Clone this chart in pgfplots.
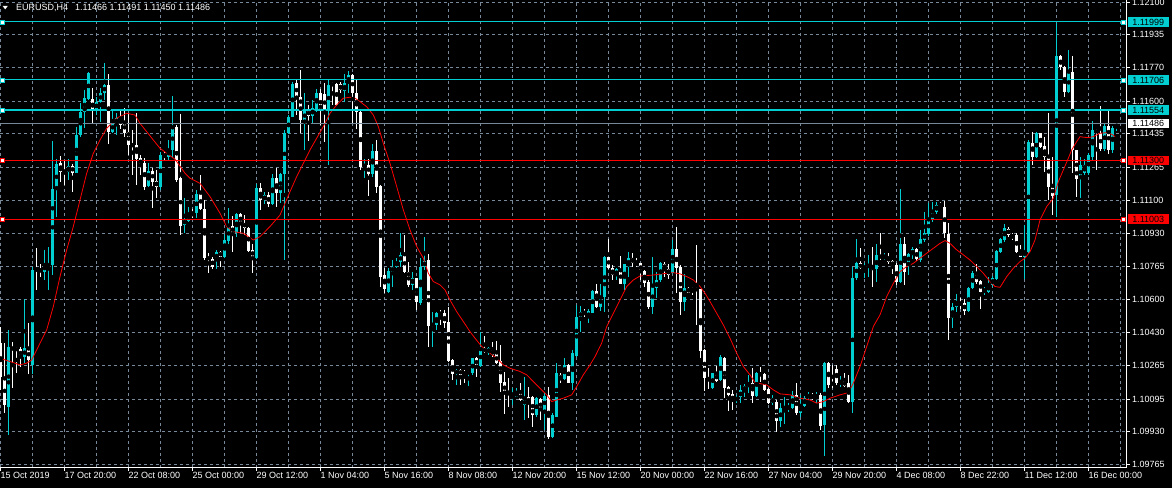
\documentclass[border=0pt]{standalone}
\usepackage{fontspec}
\setmainfont{Liberation Sans}
\usepackage{pgfplots}
\usepackage{pgfplotstable}
\pgfplotsset{compat=1.18}
\usetikzlibrary{backgrounds}
\definecolor{mtcyan}{RGB}{0,206,209}
\definecolor{mtgrid}{RGB}{119,136,153}
\definecolor{mtred}{RGB}{255,0,0}

% EURUSD H4 bars: index, open, high, low, close
\pgfplotstableread{
k o h l c
0 1.10377 1.10461 1.10141 1.10208
1 1.10208 1.10377 1.10023 1.10065
2 1.10057 1.10447 1.09914 1.10360
3 1.10360 1.10385 1.10149 1.10343
4 1.10351 1.10360 1.10225 1.10343
5 1.10346 1.10360 1.10259 1.10309
6 1.10309 1.10599 1.10276 1.10351
7 1.10351 1.10478 1.10225 1.10292
8 1.10267 1.10764 1.10225 1.10747
9 1.10755 1.10856 1.10646 1.10743
10 1.10753 1.10780 1.10713 1.10738
11 1.10738 1.10848 1.10696 1.10775
12 1.10770 1.10865 1.10646 1.10775
13 1.10772 1.11398 1.10721 1.11154
14 1.11151 1.11306 1.11016 1.11285
15 1.11285 1.11322 1.11193 1.11243
16 1.11247 1.11302 1.11176 1.11242
17 1.11243 1.11306 1.11201 1.11274
18 1.11274 1.11285 1.11142 1.11238
19 1.11238 1.11471 1.11235 1.11428
20 1.11428 1.11588 1.11420 1.11546
21 1.11546 1.11656 1.11462 1.11614
22 1.11610 1.11748 1.11605 1.11743
23 1.11610 1.11664 1.11491 1.11555
24 1.11555 1.11622 1.11529 1.11597
25 1.11597 1.11664 1.11496 1.11639
26 1.11639 1.11790 1.11605 1.11681
27 1.11681 1.11736 1.11386 1.11445
28 1.11445 1.11563 1.11437 1.11491
29 1.11487 1.11538 1.11428 1.11513
30 1.11513 1.11563 1.11462 1.11479
31 1.11496 1.11563 1.11420 1.11440
32 1.11445 1.11538 1.11327 1.11378
33 1.11383 1.11454 1.11226 1.11373
34 1.11378 1.11538 1.11176 1.11311
35 1.11311 1.11327 1.11226 1.11277
36 1.11285 1.11311 1.11151 1.11168
37 1.11171 1.11285 1.11168 1.11248
38 1.11248 1.11260 1.11058 1.11193
39 1.11196 1.11252 1.11109 1.11168
40 1.11168 1.11344 1.11151 1.11327
41 1.11331 1.11344 1.11302 1.11322
42 1.11319 1.11403 1.11302 1.11356
43 1.11353 1.11625 1.11311 1.11471
44 1.11471 1.11479 1.11193 1.11201
45 1.11210 1.11534 1.10924 1.10969
46 1.10974 1.11109 1.10932 1.11003
47 1.10996 1.11067 1.10991 1.11033
48 1.11038 1.11058 1.11008 1.11019
49 1.11033 1.11151 1.11008 1.11131
50 1.11131 1.11226 1.11050 1.11058
51 1.11058 1.11100 1.10797 1.10806
52 1.10814 1.10831 1.10730 1.10801
53 1.10801 1.10814 1.10755 1.10764
54 1.10797 1.10848 1.10755 1.10839
55 1.10839 1.10844 1.10760 1.10814
56 1.10814 1.10932 1.10811 1.10898
57 1.10895 1.11063 1.10881 1.10969
58 1.10969 1.11019 1.10839 1.10932
59 1.10932 1.11033 1.10915 1.11029
60 1.11029 1.11033 1.10932 1.10982
61 1.10986 1.11024 1.10924 1.10960
62 1.10962 1.10966 1.10839 1.10844
63 1.10848 1.10881 1.10733 1.10814
64 1.10811 1.11179 1.10801 1.11164
65 1.11164 1.11188 1.11050 1.11100
66 1.11100 1.11142 1.11083 1.11125
67 1.11125 1.11142 1.11067 1.11080
68 1.11080 1.11231 1.11075 1.11213
69 1.11213 1.11265 1.11067 1.11137
70 1.11137 1.11238 1.11083 1.11230
71 1.11230 1.11454 1.10797 1.11437
72 1.11437 1.11529 1.11433 1.11521
73 1.11521 1.11698 1.11518 1.11689
74 1.11689 1.11706 1.11529 1.11622
75 1.11622 1.11757 1.11437 1.11504
76 1.11504 1.11639 1.11353 1.11551
77 1.11555 1.11580 1.11400 1.11524
78 1.11524 1.11605 1.11487 1.11563
79 1.11555 1.11664 1.11546 1.11642
80 1.11639 1.11664 1.11479 1.11551
81 1.11635 1.11689 1.11395 1.11551
82 1.11551 1.11709 1.11277 1.11681
83 1.11689 1.11698 1.11580 1.11681
84 1.11689 1.11693 1.11575 1.11580
85 1.11689 1.11698 1.11639 1.11656
86 1.11652 1.11736 1.11597 1.11689
87 1.11689 1.11753 1.11642 1.11731
88 1.11731 1.11736 1.11487 1.11642
89 1.11642 1.11706 1.11462 1.11546
90 1.11546 1.11555 1.11252 1.11269
91 1.11269 1.11306 1.11210 1.11280
92 1.11277 1.11306 1.11120 1.11231
93 1.11231 1.11383 1.11218 1.11349
94 1.11349 1.11403 1.11137 1.11168
95 1.11171 1.11176 1.10663 1.10713
96 1.10721 1.10755 1.10629 1.10649
97 1.10637 1.10755 1.10632 1.10743
98 1.10738 1.10797 1.10663 1.10764
99 1.10764 1.10806 1.10755 1.10789
100 1.10789 1.10932 1.10764 1.10823
101 1.10823 1.10924 1.10730 1.10738
102 1.10738 1.10789 1.10663 1.10671
103 1.10671 1.10738 1.10646 1.10705
104 1.10705 1.10710 1.10545 1.10587
105 1.10579 1.10806 1.10570 1.10764
106 1.10764 1.10915 1.10747 1.10792
107 1.10797 1.10831 1.10360 1.10464
108 1.10464 1.10536 1.10360 1.10478
109 1.10469 1.10536 1.10444 1.10528
110 1.10531 1.10545 1.10469 1.10523
111 1.10528 1.10545 1.10452 1.10478
112 1.10486 1.10562 1.10284 1.10287
113 1.10292 1.10296 1.10191 1.10220
114 1.10220 1.10245 1.10166 1.10242
115 1.10242 1.10245 1.10166 1.10217
116 1.10228 1.10239 1.10175 1.10222
117 1.10222 1.10239 1.10161 1.10234
118 1.10225 1.10304 1.10217 1.10301
119 1.10301 1.10309 1.10208 1.10264
120 1.10264 1.10435 1.10259 1.10351
121 1.10351 1.10414 1.10326 1.10334
122 1.10329 1.10360 1.10318 1.10351
123 1.10343 1.10385 1.10309 1.10318
124 1.10326 1.10390 1.10272 1.10276
125 1.10284 1.10368 1.10133 1.10175
126 1.10183 1.10234 1.10023 1.10121
127 1.10127 1.10200 1.10057 1.10119
128 1.10111 1.10149 1.10065 1.10127
129 1.10107 1.10149 1.10104 1.10127
130 1.10127 1.10175 1.10087 1.10090
131 1.10065 1.10208 1.09989 1.10094
132 1.10107 1.10158 1.09998 1.10074
133 1.10104 1.10111 1.09956 1.10015
134 1.10015 1.10107 1.10006 1.10099
135 1.10094 1.10099 1.09989 1.10040
136 1.10040 1.10124 1.09939 1.10111
137 1.10116 1.10158 1.09892 1.09905
138 1.09905 1.10023 1.09897 1.10015
139 1.10006 1.10276 1.10003 1.10225
140 1.10217 1.10225 1.10175 1.10195
141 1.10195 1.10301 1.10191 1.10267
142 1.10267 1.10270 1.10175 1.10178
143 1.10175 1.10343 1.10141 1.10326
144 1.10313 1.10570 1.10309 1.10511
145 1.10511 1.10565 1.10435 1.10536
146 1.10536 1.10548 1.10511 1.10525
147 1.10503 1.10548 1.10478 1.10541
148 1.10531 1.10646 1.10528 1.10641
149 1.10641 1.10679 1.10558 1.10562
150 1.10562 1.10676 1.10541 1.10612
151 1.10609 1.10817 1.10536 1.10811
152 1.10811 1.10902 1.10750 1.10759
153 1.10755 1.10772 1.10696 1.10721
154 1.10716 1.10755 1.10696 1.10750
155 1.10750 1.10817 1.10676 1.10679
156 1.10679 1.10780 1.10646 1.10777
157 1.10764 1.10836 1.10713 1.10809
158 1.10806 1.10831 1.10764 1.10780
159 1.10784 1.10806 1.10764 1.10772
160 1.10780 1.10784 1.10700 1.10738
161 1.10743 1.10747 1.10663 1.10683
162 1.10688 1.10696 1.10553 1.10562
163 1.10562 1.10811 1.10525 1.10663
164 1.10654 1.10738 1.10607 1.10696
165 1.10696 1.10789 1.10688 1.10780
166 1.10780 1.10789 1.10713 1.10750
167 1.10750 1.10780 1.10700 1.10721
168 1.10730 1.10898 1.10727 1.10851
169 1.10851 1.10966 1.10629 1.10755
170 1.10764 1.10772 1.10520 1.10587
171 1.10587 1.10725 1.10541 1.10654
172 1.10654 1.10663 1.10629 1.10632
173 1.10654 1.10663 1.10620 1.10646
174 1.10654 1.10873 1.10469 1.10646
175 1.10649 1.10654 1.10304 1.10339
176 1.10343 1.10351 1.10138 1.10203
177 1.10200 1.10250 1.10144 1.10191
178 1.10153 1.10230 1.10149 1.10225
179 1.10225 1.10264 1.10183 1.10186
180 1.10191 1.10318 1.10186 1.10306
181 1.10301 1.10309 1.10102 1.10153
182 1.10158 1.10161 1.10037 1.10116
183 1.10119 1.10141 1.10043 1.10085
184 1.10085 1.10116 1.10077 1.10107
185 1.10104 1.10166 1.10074 1.10141
186 1.10138 1.10171 1.10107 1.10161
187 1.10158 1.10217 1.10124 1.10175
188 1.10178 1.10250 1.10074 1.10111
189 1.10111 1.10234 1.10107 1.10225
190 1.10225 1.10259 1.10183 1.10217
191 1.10222 1.10228 1.10138 1.10141
192 1.10144 1.10149 1.10070 1.10074
193 1.10074 1.10116 1.10065 1.10099
194 1.10082 1.10090 1.09927 1.09986
195 1.09986 1.10074 1.09956 1.10048
196 1.10043 1.10107 1.09969 1.10057
197 1.10043 1.10074 1.10032 1.10060
198 1.10048 1.10133 1.10043 1.10116
199 1.10116 1.10175 1.10015 1.10023
200 1.10023 1.10116 1.10006 1.10065
201 1.10060 1.10111 1.10057 1.10102
202 1.10099 1.10133 1.10090 1.10119
203 1.10112 1.10127 1.10090 1.10104
204 1.10107 1.10133 1.10074 1.10116
205 1.10116 1.10124 1.09939 1.09959
206 1.09964 1.10284 1.09808 1.10279
207 1.10279 1.10284 1.10149 1.10166
208 1.10178 1.10267 1.10149 1.10166
209 1.10245 1.10267 1.10166 1.10178
210 1.10175 1.10212 1.10154 1.10183
211 1.10186 1.10225 1.10158 1.10161
212 1.10175 1.10217 1.10074 1.10082
213 1.10082 1.10764 1.10026 1.10705
214 1.10705 1.10902 1.10696 1.10780
215 1.10780 1.10856 1.10750 1.10755
216 1.10755 1.10780 1.10705 1.10767
217 1.10764 1.10823 1.10713 1.10772
218 1.10767 1.10865 1.10659 1.10747
219 1.10750 1.10878 1.10688 1.10823
220 1.10823 1.10932 1.10797 1.10806
221 1.10806 1.10831 1.10797 1.10817
222 1.10814 1.10834 1.10780 1.10789
223 1.10794 1.10797 1.10727 1.10764
224 1.10772 1.10780 1.10671 1.10688
225 1.10688 1.11159 1.10683 1.10881
226 1.10878 1.10912 1.10671 1.10738
227 1.10780 1.10834 1.10721 1.10828
228 1.10823 1.10865 1.10801 1.10851
229 1.10851 1.10856 1.10794 1.10801
230 1.10797 1.10949 1.10789 1.10907
231 1.10898 1.11041 1.10890 1.10932
232 1.10929 1.11087 1.10918 1.11008
233 1.10999 1.11092 1.10991 1.11041
234 1.11041 1.11092 1.11033 1.11075
235 1.11072 1.11092 1.11058 1.11063
236 1.11067 1.11097 1.10907 1.10932
237 1.10932 1.10982 1.10393 1.10503
238 1.10503 1.10579 1.10452 1.10562
239 1.10562 1.10626 1.10536 1.10587
240 1.10582 1.10604 1.10553 1.10570
241 1.10582 1.10599 1.10520 1.10541
242 1.10541 1.10659 1.10536 1.10654
243 1.10654 1.10743 1.10649 1.10733
244 1.10733 1.10780 1.10679 1.10688
245 1.10691 1.10696 1.10553 1.10637
246 1.10637 1.10663 1.10620 1.10649
247 1.10637 1.10713 1.10629 1.10671
248 1.10671 1.10716 1.10663 1.10705
249 1.10700 1.10848 1.10696 1.10844
250 1.10839 1.10907 1.10831 1.10902
251 1.10898 1.10979 1.10890 1.10957
252 1.10957 1.10966 1.10915 1.10924
253 1.10924 1.10932 1.10898 1.10912
254 1.10924 1.10932 1.10831 1.10839
255 1.10844 1.10873 1.10811 1.10814
256 1.10814 1.10974 1.10700 1.10844
257 1.10839 1.11403 1.10831 1.11390
258 1.11390 1.11445 1.11277 1.11319
259 1.11319 1.11445 1.11311 1.11437
260 1.11437 1.11440 1.11361 1.11370
261 1.11373 1.11420 1.11243 1.11319
262 1.11322 1.11538 1.11100 1.11168
263 1.11171 1.11319 1.11024 1.11120
264 1.11125 1.11992 1.11013 1.11827
265 1.11827 1.11832 1.11757 1.11770
266 1.11773 1.11777 1.11619 1.11647
267 1.11647 1.11858 1.11639 1.11743
268 1.11748 1.11827 1.11235 1.11353
269 1.11353 1.11356 1.11117 1.11205
270 1.11205 1.11319 1.11114 1.11277
271 1.11235 1.11306 1.11226 1.11277
272 1.11235 1.11336 1.11226 1.11327
273 1.11319 1.11499 1.11299 1.11454
274 1.11454 1.11462 1.11252 1.11442
275 1.11440 1.11575 1.11349 1.11356
276 1.11356 1.11484 1.11349 1.11474
277 1.11474 1.11555 1.11332 1.11353
278 1.11353 1.11474 1.11336 1.11467
279 1.11466 1.11491 1.11450 1.11486
}\ohlc

% red moving average, sampled along the curve (x in bar units)
\pgfplotstableread{
x ma
0.0 1.10301
2.5 1.10284
5.0 1.10267
6.67 1.10276
7.92 1.10292
8.75 1.10326
10.0 1.10377
11.67 1.10444
13.33 1.10562
15.0 1.10713
16.67 1.10848
18.33 1.10966
20.0 1.11100
21.67 1.11235
23.33 1.11336
25.0 1.11403
26.67 1.11462
29.17 1.11513
31.67 1.11538
33.75 1.11529
35.0 1.11487
36.67 1.11445
38.33 1.11403
40.0 1.11361
41.67 1.11336
43.75 1.11306
46.25 1.11235
47.5 1.11210
50.0 1.11184
52.5 1.11117
55.0 1.11033
56.67 1.10966
58.33 1.10940
60.83 1.10932
63.33 1.10898
65.0 1.10915
67.5 1.10966
70.0 1.11024
72.5 1.11142
74.17 1.11218
75.83 1.11285
77.5 1.11353
79.17 1.11412
80.83 1.11471
82.5 1.11538
84.17 1.11580
85.83 1.11614
87.5 1.11619
88.75 1.11614
90.0 1.11597
91.67 1.11571
93.33 1.11529
94.58 1.11471
95.83 1.11386
97.5 1.11285
99.17 1.11168
100.83 1.11050
102.5 1.10949
104.17 1.10865
105.83 1.10806
107.08 1.10730
108.33 1.10688
110.0 1.10671
111.25 1.10646
112.5 1.10595
114.17 1.10536
115.83 1.10486
117.5 1.10435
118.75 1.10402
120.42 1.10360
122.5 1.10326
124.17 1.10301
125.83 1.10267
127.5 1.10250
130.0 1.10234
131.67 1.10217
133.33 1.10183
135.0 1.10149
136.67 1.10116
137.92 1.10082
139.17 1.10090
140.83 1.10099
142.92 1.10116
144.17 1.10158
145.83 1.10217
147.5 1.10267
148.75 1.10309
150.42 1.10377
151.67 1.10461
153.33 1.10528
155.0 1.10595
156.67 1.10663
158.33 1.10696
160.0 1.10716
163.33 1.10721
166.67 1.10730
168.33 1.10733
170.0 1.10727
171.67 1.10713
173.33 1.10696
175.0 1.10663
176.25 1.10629
177.5 1.10587
179.17 1.10528
180.83 1.10469
182.5 1.10402
184.17 1.10326
185.83 1.10259
187.5 1.10217
188.75 1.10178
191.67 1.10166
193.33 1.10141
195.0 1.10121
197.5 1.10116
200.0 1.10099
202.5 1.10090
204.17 1.10074
205.83 1.10082
207.5 1.10099
210.0 1.10116
212.08 1.10127
213.33 1.10175
215.0 1.10259
216.67 1.10360
218.33 1.10461
220.0 1.10520
221.67 1.10612
223.33 1.10679
225.0 1.10738
226.67 1.10764
228.33 1.10780
230.0 1.10806
231.67 1.10831
233.33 1.10856
235.0 1.10881
236.25 1.10895
237.5 1.10881
239.17 1.10848
240.83 1.10823
242.5 1.10797
244.17 1.10764
245.83 1.10730
247.5 1.10688
248.75 1.10663
250.0 1.10659
251.67 1.10713
253.33 1.10755
255.0 1.10789
256.25 1.10806
257.5 1.10839
258.75 1.10898
260.0 1.10999
261.67 1.11067
263.33 1.11109
264.58 1.11193
265.83 1.11252
267.08 1.11311
267.92 1.11353
269.17 1.11395
270.0 1.11420
270.83 1.11417
272.08 1.11415
273.33 1.11420
275.0 1.11437
276.67 1.11440
277.92 1.11432
278.75 1.11420
}\matable

\newcommand{\mtfont}{\fontsize{9pt}{10pt}\selectfont}

\begin{document}
\begin{tikzpicture}[x=1pt, y=1pt]
\begin{axis}[
    at={(0,0)}, anchor=south west,
    width=1127pt, height=468pt, scale only axis,
    xmin=0, xmax=281.75,
    ymin=1.09747, ymax=1.12110,
    axis line style={draw=none},
    grid=both,
    major grid style={mtgrid, line width=0.8pt, dash pattern=on 3pt off 3pt},
    minor grid style={mtgrid, line width=0.8pt, dash pattern=on 3pt off 3pt},
    tick align=outside, major tick length=3pt, minor tick length=0pt,
    tick style={white, line width=0.8pt},
    xtick pos=left, ytick pos=right, yticklabel pos=right,
    tick label style={font=\mtfont, text=white, inner sep=0pt},
    xtick={0,16,...,272},
    minor xtick={8,24,...,280},
    xticklabels={15 Oct 2019,17 Oct 20:00,22 Oct 08:00,25 Oct 00:00,29 Oct 12:00,1 Nov 04:00,5 Nov 16:00,8 Nov 08:00,12 Nov 20:00,15 Nov 12:00,20 Nov 00:00,22 Nov 16:00,27 Nov 04:00,29 Nov 20:00,4 Dec 08:00,8 Dec 22:00,11 Dec 12:00,16 Dec 00:00},
    xticklabel style={anchor=north west, xshift=0.5pt, yshift=-1pt},
    ytick={1.09765,1.09930,1.10095,1.10265,1.10430,1.10600,1.10765,1.10930,1.11100,1.11265,1.11435,1.11600,1.11770,1.11935,1.12100},
    yticklabels={1.09765,1.09930,1.10095,1.10265,1.10430,1.10600,1.10765,1.10930,1.11100,1.11265,1.11435,1.11600,1.11770,1.11935,1.12100},
    yticklabel style={anchor=west, xshift=2pt},
]

% up bars: wick and body
\addplot[only marks, mark=none, forget plot,
    x filter/.expression={x+0.175},
    restrict expr to domain={\thisrow{c}-\thisrow{o}}{0:1},
    error bars/.cd, y dir=both, y explicit, error mark=none,
    error bar style={draw=mtcyan, line width=1pt}]
    table[x=k, y expr=(\thisrow{h}+\thisrow{l})/2, y error expr=(\thisrow{h}-\thisrow{l})/2] {\ohlc};
\addplot[only marks, mark=none, forget plot,
    x filter/.expression={x+0.175},
    restrict expr to domain={\thisrow{c}-\thisrow{o}}{0:1},
    error bars/.cd, y dir=both, y explicit, error mark=none,
    error bar style={draw=mtcyan, line width=3pt}]
    table[x=k, y expr=(\thisrow{o}+\thisrow{c})/2, y error expr=(\thisrow{c}-\thisrow{o})/2] {\ohlc};

% down bars: wick and body
\addplot[only marks, mark=none, forget plot,
    x filter/.expression={x+0.175},
    restrict expr to domain={\thisrow{c}-\thisrow{o}}{-1:-0.000005},
    error bars/.cd, y dir=both, y explicit, error mark=none,
    error bar style={draw=white, line width=1pt}]
    table[x=k, y expr=(\thisrow{h}+\thisrow{l})/2, y error expr=(\thisrow{h}-\thisrow{l})/2] {\ohlc};
\addplot[only marks, mark=none, forget plot,
    x filter/.expression={x+0.175},
    restrict expr to domain={\thisrow{c}-\thisrow{o}}{-1:-0.000005},
    error bars/.cd, y dir=both, y explicit, error mark=none,
    error bar style={draw=white, line width=3pt}]
    table[x=k, y expr=(\thisrow{o}+\thisrow{c})/2, y error expr=(\thisrow{o}-\thisrow{c})/2] {\ohlc};

% moving average
\addplot[mtred, line width=0.8pt] table[x=x, y=ma] {\matable};

% horizontal levels
\addplot[mtcyan, line width=1pt] coordinates {(0,1.11999) (281.75,1.11999)};
\addplot[mtcyan, line width=1pt] coordinates {(0,1.11706) (281.75,1.11706)};
\addplot[mtcyan, line width=2pt] coordinates {(0,1.11554) (281.75,1.11554)};
\addplot[mtgrid, line width=1pt] coordinates {(0,1.11486) (281.75,1.11486)};
\addplot[mtred, line width=1.5pt] coordinates {(0,1.11300) (281.75,1.11300)};
\addplot[mtred, line width=1pt] coordinates {(0,1.11003) (281.75,1.11003)};

\addplot[only marks, mark=square*, mark size=2pt,
    mark options={fill=white, draw=mtcyan, line width=0.8pt}]
    coordinates {(0.6,1.11999) (0.6,1.11706) (0.6,1.11554) (280.9,1.11999) (280.9,1.11706) (280.9,1.11554)};
\addplot[only marks, mark=square*, mark size=2pt,
    mark options={fill=white, draw=mtred, line width=0.8pt}]
    coordinates {(0.6,1.11300) (0.6,1.11003) (280.9,1.11300) (280.9,1.11003)};

\coordinate (sw) at (rel axis cs:0,0);
\coordinate (se) at (rel axis cs:1,0);
\coordinate (ne) at (rel axis cs:1,1);
\coordinate (nw) at (rel axis cs:0,1);
\coordinate (r1) at (axis cs:281.75,1.11999);
\coordinate (r2) at (axis cs:281.75,1.11706);
\coordinate (r3) at (axis cs:281.75,1.11554);
\coordinate (r4) at (axis cs:281.75,1.11486);
\coordinate (r5) at (axis cs:281.75,1.11300);
\coordinate (r6) at (axis cs:281.75,1.11003);
\end{axis}

% frame lines (bottom and right)
\draw[white, line width=1pt] ([yshift=0.3pt]sw) -- ([xshift=-0.5pt,yshift=0.3pt]se) -- ([xshift=-0.5pt]ne);

% price labels on the right scale
\tikzset{lbl/.style={anchor=west, text=black, font=\mtfont, inner xsep=4.4pt, inner ysep=0pt, minimum height=9.5pt, xshift=0.7pt}}
\node[lbl, fill=mtcyan] at (r1) {1.11999};
\node[lbl, fill=mtcyan] at (r2) {1.11706};
\node[lbl, fill=mtcyan] at (r3) {1.11554};
\node[lbl, fill=white] at (r4) {1.11486};
\node[lbl, fill=mtred] at (r5) {1.11300};
\node[lbl, fill=mtred] at (r6) {1.11003};

% header
\fill[white] ([xshift=2.7pt,yshift=-6pt]nw) -- ([xshift=7.7pt,yshift=-6pt]nw) -- ([xshift=5.2pt,yshift=-9.4pt]nw) -- cycle;
\node[anchor=base west, text=white, font=\mtfont, inner sep=0pt] at ([xshift=16pt,yshift=-10.2pt]nw)
    {EURUSD,H4\hspace{7pt}1.11466 1.11491 1.11450 1.11486};

% page = axis box plus the margins for the scales
\begin{scope}[on background layer]
\fill[black] ([yshift=-20pt]sw) rectangle ([xshift=45pt]ne);
\end{scope}
\pgfresetboundingbox
\path[use as bounding box] ([yshift=-20pt]sw) rectangle ([xshift=45pt]ne);
\end{tikzpicture}
\end{document}
